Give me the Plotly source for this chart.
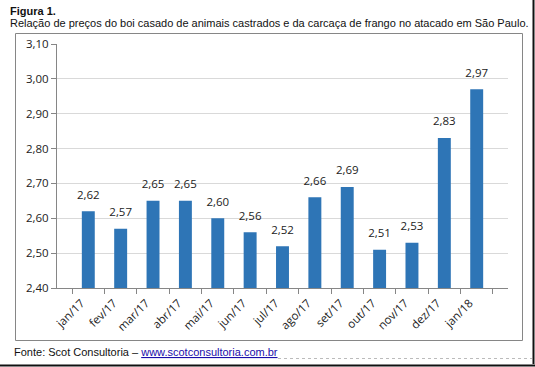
import plotly.graph_objects as go

categories = ["jan/17", "fev/17", "mar/17", "abr/17", "mai/17", "jun/17", "jul/17",
              "ago/17", "set/17", "out/17", "nov/17", "dez/17", "jan/18"]
values = [2.62, 2.57, 2.65, 2.65, 2.60, 2.56, 2.52, 2.66, 2.69, 2.51, 2.53, 2.83, 2.97]
y_ticks = [2.40, 2.50, 2.60, 2.70, 2.80, 2.90, 3.00, 3.10]

title_bold = "Figura 1."
title_text = "Relação de preços do boi casado de animais castrados e da carcaça de frango no atacado em São Paulo."
source_text = "Fonte: Scot Consultoria – "
source_url = "www.scotconsultoria.com.br"

W, H = 535, 367
L, R, T, B = 57, 508, 44, 288
PW, PH = R - L, B - T


def xp(px):
    return (px - L) / PW


def yp(py):
    return (B - py) / PH


chart_font = "Open Sans, DejaVu Sans, sans-serif"
arial = "Liberation Sans, Arial, sans-serif"

fig = go.Figure()
fig.add_trace(go.Bar(
    x=categories, y=values,
    marker=dict(color="#2E75B6", line=dict(width=0)),
    hoverinfo="x+y",
))
fig.add_trace(go.Scatter(
    x=categories, y=values, mode="markers+text",
    marker=dict(size=14, opacity=0),
    text=[f"{v:.2f}".replace(".", ",") for v in values],
    textposition="top center",
    textfont=dict(family=chart_font, size=11.5, color="#222222"),
    cliponaxis=False, hoverinfo="skip",
))

fig.update_layout(
    width=W, height=H,
    margin=dict(l=L, r=W - R, t=T, b=H - B, pad=0),
    paper_bgcolor="white", plot_bgcolor="white",
    separators=",.",
    bargap=0.6,
    showlegend=False,
    font=dict(family=chart_font, size=11, color="#222222"),
    xaxis=dict(
        type="category", tickangle=-45, tickson="boundaries",
        ticks="outside", ticklen=5, tickcolor="#868686",
        showline=True, linecolor="#868686", linewidth=1,
        showgrid=False, tickfont=dict(family=chart_font, size=11.5, color="#222222"),
        ticklabelshift=-7, ticklabelstandoff=3,
        fixedrange=True, automargin=False,
    ),
    yaxis=dict(
        range=[2.40, 3.10], tickvals=y_ticks, tickformat=".2f",
        ticks="outside", ticklen=5, tickcolor="#868686",
        showline=True, linecolor="#868686", linewidth=1,
        showgrid=True, gridcolor="#D9D9D9", gridwidth=1,
        zeroline=False, tickfont=dict(family=chart_font, size=11.5, color="#222222"),
        fixedrange=True, automargin=False,
    ),
    shapes=[
        dict(type="rect", xref="paper", yref="paper",
             x0=xp(15.5), x1=xp(522.5), y0=yp(340.5), y1=yp(33.5),
             line=dict(color="#868686", width=1), fillcolor="rgba(0,0,0,0)", layer="below"),
        dict(type="line", xref="paper", yref="paper",
             x0=xp(278), x1=xp(532), y0=yp(358.5), y1=yp(358.5),
             line=dict(color="#BBBBBB", width=1, dash="dot")),
        dict(type="line", xref="paper", yref="paper",
             x0=xp(533.5), x1=xp(533.5), y0=yp(0), y1=yp(364),
             line=dict(color="#111111", width=2)),
        dict(type="line", xref="paper", yref="paper",
             x0=xp(0), x1=xp(535), y0=yp(365.5), y1=yp(365.5),
             line=dict(color="#111111", width=2)),
    ],
    annotations=[
        dict(xref="paper", yref="paper", x=xp(8), y=yp(11), xanchor="left", yanchor="middle",
             text="<b>" + title_bold + "</b>", showarrow=False,
             font=dict(family=arial, size=11, color="#111111")),
        dict(xref="paper", yref="paper", x=xp(8), y=yp(23), xanchor="left", yanchor="middle",
             text=title_text, showarrow=False,
             font=dict(family=arial, size=11, color="#111111")),
        dict(xref="paper", yref="paper", x=xp(12), y=yp(352), xanchor="left", yanchor="middle",
             text=source_text + "<span style='color:#1A0DAB'><u>" + source_url + "</u></span>",
             showarrow=False,
             font=dict(family=arial, size=11, color="#111111")),
    ],
)

fig.write_html(
    "out.html",
    config={"displayModeBar": False},
    post_script="document.body.style.margin='0';document.body.style.padding='0';",
)
